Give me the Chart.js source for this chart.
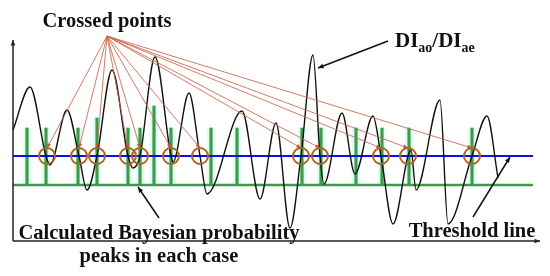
<!DOCTYPE html>
<html>
<head>
<meta charset="utf-8">
<script src="https://cdn.jsdelivr.net/npm/chart.js@4.4.1/dist/chart.umd.min.js"></script>
<style>
  html, body { margin: 0; padding: 0; background: #fff; }
  canvas { display: block; }
</style>
</head>
<body>
<canvas id="chart" width="550" height="276"></canvas>
<script>
'use strict';

/* DATA — signal DIao/DIae (turning points + threshold crossings) */
const curveX = [0, 17, 33, 37, 54, 66, 74, 84, 99, 115, 120, 127, 142, 158, 160, 176, 187, 194, 229, 247, 263, 277, 288, 300, 307, 311, 329, 342, 360, 368, 380, 395, 398, 403, 427, 435, 459, 474, 485];
const curveY = [111, 154, 85, 76, 131, 85, 51, 85, 171, 85, 73, 85, 184, 85, 79, 148, 85, 47, 130, 42, 118, 13, 85, 186, 85, 57, 128, 67, 125, 85, 17, 85, 91, 51, 141, 17, 85, 125, 63];

/* threshold + base level */
const thresholdLevel = 85;
const baseLevel = 56;
const levelEnd = 520;

/* crossed points */
const crossX = [34, 66, 84, 115, 127, 158, 187, 288, 307, 368, 395, 459];

/* Bayesian probability peaks */
const peakX = [14, 33, 65, 84, 115, 127, 141, 158, 198, 224, 289, 308, 343, 369, 396, 459];
const peakTop = [113, 113, 113, 123, 113, 113, 135, 113, 113, 113, 113, 113, 113, 113, 113, 113];

/* where the "Crossed points" leader lines meet */
const focusPoint = { x: 94, y: 205 };

const SERIF = "'Liberation Serif', 'DejaVu Serif', serif";
const CIRCLE_R = 8;

function arrowHead(ctx, x1, y1, x2, y2, size) {
  const a = Math.atan2(y2 - y1, x2 - x1);
  ctx.beginPath();
  ctx.moveTo(x2, y2);
  ctx.lineTo(x2 - size * Math.cos(a - 0.4), y2 - size * Math.sin(a - 0.4));
  ctx.lineTo(x2 - size * Math.cos(a + 0.4), y2 - size * Math.sin(a + 0.4));
  ctx.closePath();
  ctx.fill();
}

function arrow(ctx, x1, y1, x2, y2, color, width, size) {
  ctx.save();
  ctx.strokeStyle = color; ctx.fillStyle = color; ctx.lineWidth = width;
  ctx.beginPath(); ctx.moveTo(x1, y1); ctx.lineTo(x2, y2); ctx.stroke();
  arrowHead(ctx, x1, y1, x2, y2, size);
  ctx.restore();
}

/* axes, arrows and labels */
const annotate = {
  id: 'annotate',
  afterDatasetsDraw(chart) {
    const { ctx, chartArea: ca, scales: { x, y } } = chart;
    const px = v => x.getPixelForValue(v);
    const py = v => y.getPixelForValue(v);

    // small arrowheads on the leader lines
    ctx.save();
    ctx.fillStyle = '#d0502a';
    crossX.forEach(cx => {
      arrowHead(ctx, px(focusPoint.x), py(focusPoint.y), px(cx), py(thresholdLevel) - CIRCLE_R, 5);
    });
    ctx.restore();

    // axes
    arrow(ctx, ca.left, ca.bottom, ca.left, py(201), '#222', 1.5, 6);
    arrow(ctx, ca.left, ca.bottom, ca.right, ca.bottom, '#222', 1.5, 6);

    // pointers
    arrow(ctx, 388, 41, px(305), py(173), '#111', 1.5, 6);
    arrow(ctx, 159, 218, px(125), py(54), '#111', 1.5, 6);
    arrow(ctx, 473, 217, px(497), py(84), '#111', 1.5, 6);

    ctx.save();
    ctx.fillStyle = '#111';
    ctx.textBaseline = 'alphabetic';
    ctx.textAlign = 'center';
    ctx.font = 'bold 20.5px ' + SERIF;
    ctx.fillText('Crossed points', 107, 27);
    ctx.font = 'bold 20.5px ' + SERIF;
    ctx.fillText('Calculated Bayesian probability', 159, 239);
    ctx.fillText('peaks in each case', 159, 262);
    ctx.font = 'bold 20.5px ' + SERIF;
    ctx.fillText('Threshold line', 472, 237);

    // DIao/DIae with subscripts
    ctx.textAlign = 'left';
    let cx = 395;
    const part = (t, size, base) => {
      ctx.font = 'bold ' + size + 'px ' + SERIF;
      ctx.fillText(t, cx, base);
      cx += ctx.measureText(t).width;
    };
    part('DI', 21, 47);
    part('ao', 14, 52);
    part('/DI', 21, 47);
    part('ae', 14, 52);
    ctx.restore();
  }
};

const leaderSets = crossX.map(cx => ({
  type: 'line',
  data: [{ x: focusPoint.x, y: focusPoint.y }, { x: cx, y: thresholdLevel + CIRCLE_R }],
  borderColor: 'rgba(200,100,75,0.85)',
  borderWidth: 1,
  pointRadius: 0,
  clip: false,
  order: 2
}));

new Chart(document.getElementById('chart'), {
  data: {
    datasets: [
      {
        type: 'bar',
        data: peakX.map((v, i) => ({ x: v, y: [baseLevel, peakTop[i]] })),
        backgroundColor: 'rgba(205,250,240,0.6)',
        barThickness: 8,
        grouped: false,
        order: 9
      },
      {
        type: 'bar',
        data: peakX.map((v, i) => ({ x: v, y: [baseLevel, peakTop[i]] })),
        backgroundColor: '#3f9a48',
        barThickness: 2.5,
        grouped: false,
        order: 8
      },
      {
        type: 'line',
        data: [{ x: 0, y: baseLevel }, { x: levelEnd, y: baseLevel }],
        borderColor: '#3f9a48',
        borderWidth: 2.5,
        pointRadius: 0,
        order: 7
      },
      {
        type: 'line',
        data: [{ x: 0, y: thresholdLevel }, { x: levelEnd, y: thresholdLevel }],
        borderColor: '#1010e0',
        borderWidth: 2,
        pointRadius: 0,
        order: 6
      },
      {
        type: 'line',
        data: curveX.map((v, i) => ({ x: v, y: curveY[i] })),
        borderColor: '#111',
        borderWidth: 1.4,
        cubicInterpolationMode: 'monotone',
        pointRadius: 0,
        clip: false,
        order: 5
      },
      ...leaderSets,
      {
        type: 'scatter',
        data: crossX.map(v => ({ x: v, y: thresholdLevel })),
        pointRadius: CIRCLE_R,
        pointStyle: 'circle',
        backgroundColor: 'rgba(0,0,0,0)',
        borderColor: '#b3621e',
        borderWidth: 2,
        clip: false,
        order: 1
      }
    ]
  },
  options: {
    responsive: false,
    devicePixelRatio: 1,
    animation: false,
    events: [],
    layout: { padding: { left: 13, right: 10, top: 30, bottom: 35 } },
    plugins: { legend: { display: false }, tooltip: { enabled: false } },
    scales: {
      x: { type: 'linear', min: 0, max: 527, display: false, offset: false },
      y: { type: 'linear', min: 0, max: 211, display: false }
    }
  },
  plugins: [annotate]
});
</script>
</body>
</html>
